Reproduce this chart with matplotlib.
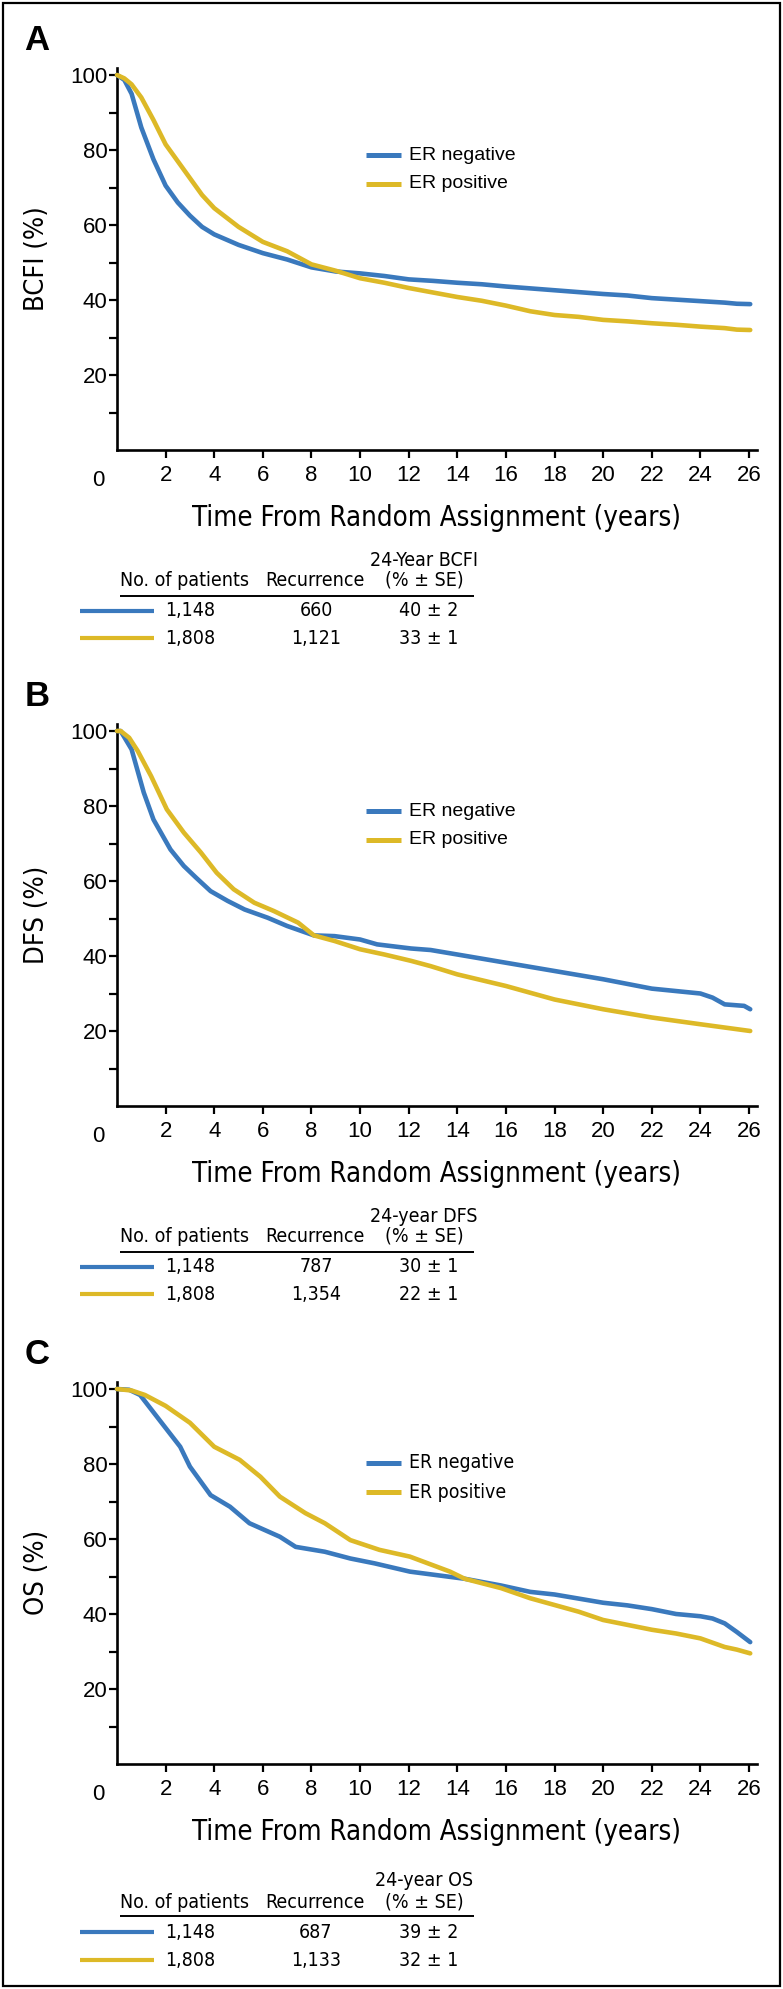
#!/usr/bin/env python3
"""Kaplan-Meier style panels (BCFI / DFS / OS) by ER status."""

from pathlib import Path

import matplotlib

matplotlib.use("Agg")
import matplotlib.pyplot as plt
from matplotlib import font_manager
from matplotlib.font_manager import FontProperties
from matplotlib.lines import Line2D
from matplotlib.patches import Rectangle


W_PX, H_PX = 783, 1989
BLUE = "#3A79BD"
GOLD = "#DDB927"


def has_font(name):
    try:
        font_manager.findfont(name, fallback_to_default=False)
        return True
    except ValueError:
        return False


def find_condensed():
    """Look for an upright, regular-weight condensed sans face."""
    skip = ("bold", "italic", "oblique", "light", "thin", "black", "medium",
            "semibold", "extrabold", "mono", "serif", "semicondensed", "extracondensed",
            "ultracondensed")
    found = {}
    for f in font_manager.fontManager.ttflist:
        low = Path(f.fname).name.lower().replace("-", "").replace("_", "")
        if f.style != "normal" or any(k in low for k in skip):
            continue
        if "condensed" in low or "narrow" in low:
            found.setdefault(f.name, f.fname)
    for pref in ("Liberation Sans Narrow", "Noto Sans", "Open Sans", "Roboto",
                 "DejaVu Sans", "Lato", "Inter"):
        if pref in found:
            return found[pref]
    return next(iter(found.values()), None)


REG = "Liberation Sans" if has_font("Liberation Sans") else "DejaVu Sans"
COND_FILE = find_condensed()


def narrow(size):
    if COND_FILE:
        return FontProperties(fname=COND_FILE, size=size)
    return FontProperties(family=REG, size=size)


# ---- data ---------------------------------------------------------------
# panel A: BCFI
a_neg_t = [0, 0.3, 0.6, 1, 1.5, 2, 2.5, 3, 3.5, 4, 5, 6, 7, 8, 9, 10, 11, 12, 13,
           14, 15, 16, 17, 18, 19, 20, 21, 22, 23, 24, 25, 25.5, 26.05]
a_neg_s = [100, 98.7, 95, 86, 77.5, 70.5, 66, 62.5, 59.5, 57.5, 54.7, 52.5, 50.8,
           48.7, 47.6, 47.1, 46.4, 45.5, 45.1, 44.6, 44.2, 43.6, 43.1, 42.6, 42.1,
           41.6, 41.2, 40.5, 40.1, 39.7, 39.3, 39.0, 38.9]
a_pos_t = [0, 0.3, 0.6, 1, 1.5, 2, 2.5, 3, 3.5, 4, 5, 6, 7, 8, 9, 10, 11, 12, 13,
           14, 15, 16, 17, 18, 19, 20, 21, 22, 23, 24, 25, 25.5, 26.05]
a_pos_s = [100, 99.1, 97.5, 94, 88, 81.5, 77, 72.5, 68, 64.5, 59.5, 55.5, 53, 49.5,
           47.8, 45.8, 44.6, 43.2, 42, 40.8, 39.8, 38.5, 37, 36, 35.5, 34.7, 34.3,
           33.8, 33.4, 32.9, 32.5, 32.1, 32.0]

# panel B: DFS
b_neg_t = [0, 0.15, 0.6, 1.1, 1.5, 2.2, 2.75, 3.25, 3.85, 4.55, 5.25, 6.2, 7, 8.1,
           8.95, 10, 10.7, 12.1, 12.9, 14, 16, 18, 20, 22, 24, 24.5, 25, 25.8, 26.05]
b_neg_s = [100, 100, 95.1, 83.6, 76.4, 68.4, 64, 60.9, 57.3, 54.7, 52.4, 50.2, 48,
           45.5, 45.3, 44.4, 43.1, 42, 41.6, 40.4, 38.2, 36, 33.8, 31.3, 30, 28.9,
           27.1, 26.7, 25.8]
b_pos_t = [0, 0.15, 0.5, 0.85, 1.4, 2.05, 2.75, 3.45, 4.1, 4.8, 5.65, 6.45, 7.45,
           8.1, 8.95, 10, 11, 12.1, 12.9, 14, 16, 18, 20, 22, 24, 26.05]
b_pos_s = [100, 100, 98.2, 94.7, 88, 79.1, 72.9, 67.6, 62.2, 57.8, 54.2, 52, 48.9,
           45.5, 44, 41.8, 40.4, 38.7, 37.3, 35.1, 32, 28.4, 25.8, 23.6, 21.8, 20.0]

# panel C: OS
c_neg_t = [0, 0.5, 0.95, 1.75, 2.6, 3, 3.85, 4.65, 5.45, 6.7, 7.35, 8.55, 9.6, 10.6,
           12.05, 13.7, 14.3, 15.8, 17, 18, 19, 20, 21, 22, 23, 24, 24.5, 25, 25.5,
           26.05]
c_neg_s = [100, 99.8, 98.4, 91.7, 84.6, 79.3, 71.7, 68.6, 64.2, 60.6, 57.9, 56.6,
           54.8, 53.5, 51.3, 49.9, 49.4, 47.6, 45.9, 45.2, 44.1, 43, 42.3, 41.3, 40,
           39.4, 38.8, 37.5, 35.2, 32.5]
c_pos_t = [0, 0.6, 1.15, 2, 3, 4, 5.05, 5.9, 6.7, 7.75, 8.55, 9.6, 10.8, 12.05, 13.7,
           14.3, 15.8, 17, 18, 19, 20, 21, 22, 23, 24, 25, 25.5, 26.05]
c_pos_s = [100, 99.6, 98.4, 95.5, 91, 84.6, 81.1, 76.6, 71.3, 66.9, 64.2, 59.7,
           57.1, 55.3, 51.3, 49.4, 46.9, 44.2, 42.4, 40.6, 38.4, 37.1, 35.8, 34.8,
           33.5, 31.2, 30.5, 29.5]

panel_letters = ["A", "B", "C"]
y_labels = ["BCFI (%)", "DFS (%)", "OS (%)"]
group_labels = ["ER negative", "ER positive"]
table_headers = ["24-Year BCFI", "24-year DFS", "24-year OS"]
n_patients = ["1,148", "1,808"]
recurrences = [["660", "1,121"], ["787", "1,354"], ["687", "1,133"]]
rates = [["40 ± 2", "33 ± 1"], ["30 ± 1", "22 ± 1"], ["39 ± 2", "32 ± 1"]]

curves = [
    ((a_neg_t, a_neg_s), (a_pos_t, a_pos_s)),
    ((b_neg_t, b_neg_s), (b_pos_t, b_pos_s)),
    ((c_neg_t, c_neg_s), (c_pos_t, c_pos_s)),
]

x_ticks = list(range(2, 27, 2))
y_major = [20, 40, 60, 80, 100]
y_minor = [10, 30, 50, 70, 90]

# ---- layout (pixel positions) -------------------------------------------
AX_LEFT, AX_RIGHT = 117, 757
AX_BOTTOMS = [450, 1106, 1764]
PX_PER_UNIT = 3.75
YMAX = 102
legend_offsets = [(-295, -266), (-295, -266), (-301, -272)]
table_offsets = [
    (110, 130, 146, 161, 188),
    (110, 130, 146, 161, 188),
    (116, 138, 152, 168, 196),
]


def fx(x):
    return x / W_PX


def fy(y):
    return 1 - y / H_PX


fig = plt.figure(figsize=(W_PX / 100, H_PX / 100), dpi=100)
fig.patch.set_facecolor("white")
renderer = fig.canvas.get_renderer()


def ftext(x, y, s, **kw):
    kw.setdefault("ha", "center")
    kw.setdefault("va", "center")
    return fig.text(fx(x), fy(y), s, **kw)


def fit_size(s, target_px, rotation=0):
    """Condensed-font size that gives the measured width from the reference."""
    probe = fig.text(0, 0, s, fontproperties=narrow(20), rotation=rotation)
    bb = probe.get_window_extent(renderer)
    span = bb.height if rotation else bb.width
    probe.remove()
    return 20 * target_px / span


def fline(x0, x1, y, color, lw):
    fig.add_artist(
        Line2D([fx(x0), fx(x1)], [fy(y), fy(y)], transform=fig.transFigure,
               color=color, lw=lw, solid_capstyle="butt")
    )


XLABEL = "Time From Random Assignment (years)"
xlabel_size = fit_size(XLABEL, 488)
table_size = fit_size("No. of patients", 129)
ylabel_size = fit_size("BCFI (%)", 105, rotation=90)
legc_size = fit_size("ER negative", 105)

for i in range(3):
    y0 = AX_BOTTOMS[i]
    top = y0 - YMAX * PX_PER_UNIT
    ax = fig.add_axes([fx(AX_LEFT), fy(y0), (AX_RIGHT - AX_LEFT) / W_PX,
                       (y0 - top) / H_PX])
    colors = [BLUE, GOLD]
    for (t, s), c in zip(curves[i], colors):
        ax.plot(t, s, color=c, lw=3.3, solid_capstyle="round", solid_joinstyle="round",
                clip_on=False, zorder=3)
    ax.set_xlim(0, (AX_RIGHT - AX_LEFT) / (632 / 26))
    ax.set_ylim(0, YMAX)
    ax.spines[["top", "right"]].set_visible(False)
    for sp in ("left", "bottom"):
        ax.spines[sp].set_linewidth(1.9)
    ax.set_xticks(x_ticks)
    ax.set_yticks(y_major)
    ax.set_yticks(y_minor, minor=True)
    ax.tick_params(axis="both", which="both", direction="out", length=5.8, width=1.6,
                   labelsize=16)
    ax.tick_params(axis="x", pad=5)
    ax.tick_params(axis="y", pad=1)
    for lab in ax.get_xticklabels() + ax.get_yticklabels():
        lab.set_fontfamily(REG)

    # origin label, panel letter, axis titles
    ftext(98, y0 + 30, "0", fontsize=16, family=REG)
    ftext(37, y0 - 410, panel_letters[i], fontsize=25, fontweight="bold", family=REG)
    ftext(37, (y0 + top) / 2, y_labels[i], rotation=90,
          fontproperties=narrow(ylabel_size))
    ftext((AX_LEFT + AX_RIGHT) / 2, y0 + 68, XLABEL, fontproperties=narrow(xlabel_size))

    # legend inside the plot
    for (dy, lab, c) in zip(legend_offsets[i], group_labels, colors):
        fline(366, 401, y0 + dy, c, 3.6)
        if i == 2:
            ftext(409, y0 + dy, lab, fontproperties=narrow(legc_size), ha="left")
        else:
            ftext(409, y0 + dy, lab, fontsize=14, family=REG, ha="left")

    # risk table below
    h1, h2, rule, r1, r2 = table_offsets[i]
    tp = narrow(table_size)
    ftext(424, y0 + h1, table_headers[i], fontproperties=tp)
    ftext(185, y0 + h2, "No. of patients", fontproperties=tp)
    ftext(315, y0 + h2, "Recurrence", fontproperties=tp)
    ftext(424, y0 + h2, "(% ± SE)", fontproperties=tp)
    fline(120, 474, y0 + rule, "black", 1.4)
    for j, ry in enumerate((r1, r2)):
        fline(80, 154, y0 + ry, colors[j], 3.0)
        ftext(165, y0 + ry, n_patients[j], fontproperties=tp, ha="left")
        ftext(316, y0 + ry, recurrences[i][j], fontproperties=tp)
        ftext(429, y0 + ry, rates[i][j], fontproperties=tp)

fig.add_artist(Rectangle((fx(3), fy(1986)), fx(777), 1983 / H_PX, transform=fig.transFigure,
                         fill=False, edgecolor="black", lw=1.6))

fig.savefig("out.png", dpi=100)
